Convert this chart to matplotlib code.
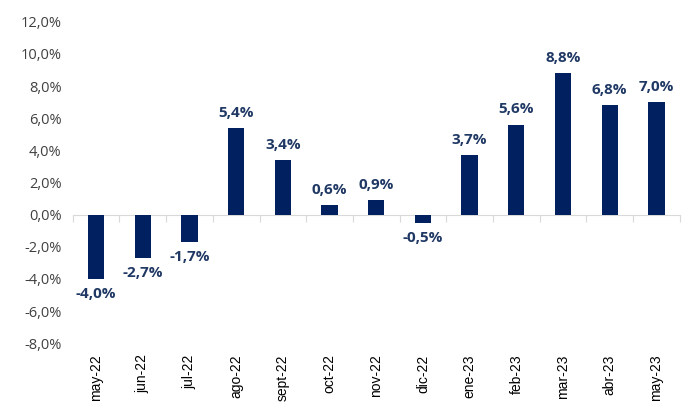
import matplotlib.pyplot as plt
import numpy as np

# meses y variación (%)
months = ['may-22', 'jun-22', 'jul-22', 'ago-22', 'sept-22', 'oct-22', 'nov-22',
          'dic-22', 'ene-23', 'feb-23', 'mar-23', 'abr-23', 'may-23']
values = [-4.0, -2.7, -1.7, 5.4, 3.4, 0.6, 0.9, -0.5, 3.7, 5.6, 8.8, 6.8, 7.0]

navy = '#002060'
gray = '#404040'

fig = plt.figure(figsize=(7, 4.2), dpi=100)
ax = fig.add_axes([0.104, 0.183, 0.867, 0.765])

x = np.arange(len(months))
ax.bar(x, values, width=0.35, color=navy, zorder=3)

for xi, v in zip(x, values):
    lbl = f'{v:.1f}%'.replace('.', ',')
    if v >= 0:
        ax.annotate(lbl, (xi, v), xytext=(0, 6), textcoords='offset points',
                    ha='center', va='bottom', fontsize=11, fontweight='bold',
                    color='#1F3864', family='Open Sans')
    else:
        ax.annotate(lbl, (xi, v), xytext=(0, -6), textcoords='offset points',
                    ha='center', va='top', fontsize=11, fontweight='bold',
                    color='#1F3864', family='Open Sans')

ax.set_ylim(-8, 12)
ax.set_yticks(np.arange(-8, 13, 2))
ax.set_yticklabels([f'{t:.1f}%'.replace('.', ',') for t in np.arange(-8, 13, 2)],
                   fontsize=10.5, color=gray, family='Open Sans')
ax.tick_params(axis='y', length=0, pad=8)
ax.set_xlim(-0.5, len(months) - 0.5)

for s in ['top', 'right', 'left']:
    ax.spines[s].set_visible(False)
ax.spines['bottom'].set_position(('data', 0))
ax.spines['bottom'].set_color('#D9D9D9')
ax.spines['bottom'].set_zorder(2)

# marcas entre categorías sobre la línea cero
ax.set_xticks(np.arange(-0.5, len(months), 1))
ax.set_xticklabels([])
ax.tick_params(axis='x', length=5, color='#D9D9D9', direction='out')

sec = ax.secondary_xaxis('bottom')
sec.set_xticks(x)
sec.set_xticklabels(months, rotation=90, fontsize=10, color='black',
                    family='Liberation Sans')
sec.tick_params(length=0, pad=8)
sec.spines['bottom'].set_visible(False)

fig.savefig('out.png', dpi=100)
